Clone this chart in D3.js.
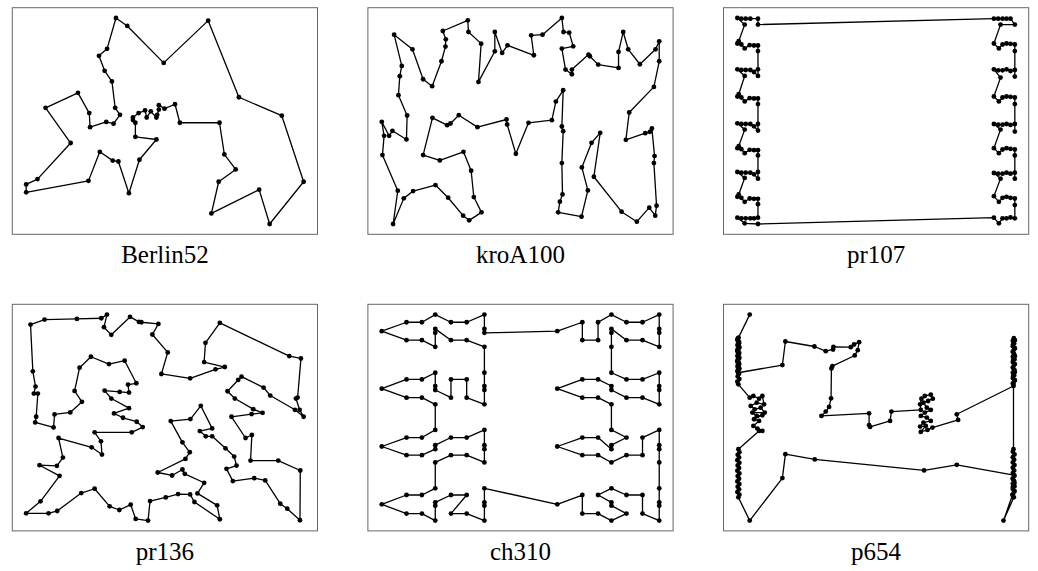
<!DOCTYPE html>
<html>
<head>
<meta charset="utf-8">
<script src="https://cdn.jsdelivr.net/npm/d3@7"></script>
<style>
  body { margin: 0; background: #fff; }
  text { font-family: "Liberation Serif", "Times New Roman", serif; }
</style>
</head>
<body>
<svg id="chart" width="1038" height="571"></svg>
<script>
// instance names, in panel order
const names = ['Berlin52', 'kroA100', 'pr107', 'pr136', 'ch310', 'p654'];

// berlin52 cities, in tour order (TSPLIB coordinates, y up)
const berlin52 = [
  [565,575],[605,625],[575,665],[555,815],[510,875],[475,960],[525,1000],[580,1175],[650,1130],
  [875,920],[1150,1160],[1340,725],[1605,620],[1740,245],[1530,5],[1465,200],[1170,65],[1215,245],
  [1320,315],[1250,400],[1220,580],[975,580],[945,685],[880,660],[845,680],[845,655],[835,625],
  [830,610],[795,645],[770,610],[760,650],[720,635],[685,610],[685,595],[700,580],[700,500],
  [830,485],[725,370],[660,180],[595,360],[560,365],[480,415],[410,250],[25,185],[25,230],
  [95,260],[300,465],[145,665],[345,750],[415,635],[420,555],[520,585]
];

// the rest (x right, y down)
const kroA100 = [
  [95,88],[150,132],[182,222],[209,243],[237,168],[249,124],[250,102],[241,77],[316,45],[318,80],
  [356,115],[348,230],[397,138],[397,80],[419,143],[435,120],[514,150],[506,90],[540,88],[598,38],
  [603,80],[620,82],[632,123],[598,130],[609,193],[628,207],[628,193],[678,148],[682,153],[707,178],
  [768,188],[768,140],[782,80],[797,132],[832,177],[879,132],[890,108],[890,168],[874,245],[800,322],
  [790,404],[848,384],[862,380],[868,370],[876,453],[874,474],[882,602],[878,632],[860,608],[823,650],
  [777,620],[694,515],[713,383],[687,413],[658,487],[676,556],[657,635],[587,622],[592,590],[600,568],
  [598,474],[602,378],[598,364],[602,255],[580,289],[568,345],[498,353],[460,446],[434,358],[432,343],
  [345,366],[289,330],[264,355],[254,360],[210,338],[182,450],[232,466],[303,440],[326,497],[334,576],
  [357,622],[320,646],[302,632],[257,578],[219,540],[152,558],[124,580],[92,657],[106,557],[60,450],
  [65,392],[58,350],[80,392],[90,377],[132,403],[134,331],[108,270],[112,213],[118,182]
];

const pr107 = [
  [120,55],[120,37],[97,37],[83,37],[70,37],[58,35],[80,55],
  [62,105],[58,112],[70,115],[80,127],[95,117],[108,118],[120,118],[120,135],
  [120,190],[120,210],[108,198],[97,192],[83,192],[70,192],[58,190],[80,210],
  [62,265],[58,272],[70,275],[80,287],[95,277],[108,278],[120,278],[120,295],
  [120,355],[120,375],[108,362],[97,355],[83,355],[70,355],[58,353],[80,372],
  [62,422],[58,428],[70,431],[80,443],[95,433],[108,434],[120,434],[120,450],
  [120,500],[120,520],[108,507],[97,502],[83,502],[70,502],[58,500],[80,518],
  [62,568],[58,575],[70,578],[80,590],[95,580],[108,581],[120,581],[120,597],
  [120,638],[108,640],[97,640],[83,640],[70,640],[58,638],[80,655],[120,657],
  [830,638],[845,655],[856,640],[868,640],[880,637],[893,640],[893,600],
  [893,580],[880,578],[868,575],[856,578],[845,590],[830,573],[850,520],
  [830,503],[843,505],[856,505],[868,502],[880,505],[893,502],[893,520],
  [893,450],[893,432],[880,430],[868,428],[856,432],[845,443],[830,428],[850,372],
  [830,355],[843,357],[856,357],[868,355],[880,358],[893,355],[893,378],
  [893,295],[893,275],[880,273],[868,272],[856,275],[845,287],[830,272],[850,215],
  [830,190],[843,193],[856,193],[868,190],[880,195],[893,192],[893,212],
  [893,135],[893,115],[880,113],[868,112],[856,115],[845,127],[830,112],[850,55],
  [893,55],[880,37],[868,37],[856,37],[843,37],[830,37]
];

const pr136 = [
  [78,35],[120,20],[217,18],[290,16],[307,5],[298,43],[320,66],[376,12],[403,27],[410,28],
  [461,33],[443,65],[489,119],[470,184],[556,197],[632,170],[660,163],[598,148],[602,90],[645,30],
  [853,130],[888,137],[878,255],[873,258],[884,292],[896,313],[870,292],[796,249],[776,225],[710,192],
  [700,202],[668,236],[690,258],[745,290],[773,301],[740,305],[680,313],[722,377],[741,368],[737,445],
  [820,445],[886,475],[885,625],[847,590],[826,575],[781,505],[748,498],[684,507],[665,470],[695,460],
  [688,433],[662,408],[622,372],[603,372],[585,356],[622,348],[588,280],[557,320],[498,326],[533,390],
  [555,420],[542,440],[459,481],[502,490],[533,472],[540,485],[598,512],[578,544],[637,580],[645,622],
  [569,570],[556,547],[520,546],[483,556],[436,567],[430,626],[393,621],[378,578],[344,594],[315,583],
  [270,530],[230,543],[158,597],[132,604],[65,604],[108,568],[165,491],[105,459],[157,461],[175,436],
  [162,377],[261,405],[292,427],[289,387],[270,360],[381,360],[414,344],[396,328],[355,316],[328,303],
  [373,287],[320,258],[300,234],[345,238],[373,240],[370,216],[395,212],[360,144],[313,154],[259,132],
  [225,165],[210,235],[232,268],[197,300],[150,306],[147,345],[92,330],[95,313],[100,243],[88,243],
  [93,222],[85,176]
];

const ch310 = [
  [58,55],[132,28],[178,28],[218,5],[265,28],[312,28],[365,5],[365,48],[365,60],
  [583,55],[658,28],[658,82],[705,82],[705,28],[745,5],[790,28],[838,28],[888,5],[888,48],[888,60],
  [888,102],[838,82],[790,82],[745,48],[745,60],[745,102],[745,180],[790,200],[838,200],[888,180],
  [888,220],[888,232],[888,275],[838,255],[790,255],[745,232],[745,220],[705,200],[658,200],[583,228],
  [658,255],[705,255],[745,275],[745,352],[790,375],[745,398],[745,410],[705,375],[658,375],[583,402],
  [658,428],[705,428],[745,450],[790,428],[838,428],[838,375],[888,352],[888,398],[888,410],[888,450],
  [888,528],[888,570],[888,580],[888,625],[838,604],[838,548],[790,548],[745,528],[705,548],[745,570],
  [745,580],[790,604],[745,625],[705,604],[658,604],[658,548],[583,576],[365,528],[365,570],[365,580],
  [365,625],[312,604],[265,604],[312,548],[265,548],[218,570],[218,580],[218,625],[178,604],[132,604],
  [58,576],[132,548],[178,548],[218,528],[218,450],[265,428],[312,428],[365,450],[365,410],[365,398],
  [365,352],[312,375],[265,375],[218,398],[218,410],[178,428],[132,428],[58,402],[132,375],[178,375],
  [218,352],[218,275],[178,255],[132,255],[58,228],[132,200],[178,200],[218,180],[218,220],[218,232],
  [265,255],[265,200],[312,200],[312,255],[365,275],[365,232],[365,220],[365,180],[365,102],[312,82],
  [265,82],[218,48],[218,60],[218,102],[178,82],[132,82]
];

const p654 = [
  [97,5],[63,75],[61,83],[65,91],[61,99],[64,107],[60,115],[65,123],[61,131],[64,139],[60,147],
  [65,155],[61,163],[64,171],[62,180],
  [195,157],[204,86],[291,101],[325,115],[347,110],[348,102],[400,103],[410,95],[425,88],[421,112],
  [412,128],[345,160],[342,167],[341,257],[335,283],[325,297],[312,310],[455,302],[455,338],[458,343],
  [518,325],[522,297],[610,292],[608,275],[612,258],[622,250],[640,246],[646,258],[632,265],[618,270],
  [628,285],[640,292],[622,300],[610,310],[628,315],[640,325],[618,330],[608,342],[625,340],[610,358],
  [630,352],[645,345],[722,322],[718,305],[888,220],
  [886,212],[891,204],[886,196],[890,188],[886,180],[891,172],[886,164],[890,156],[886,148],[891,140],
  [886,132],[890,124],[886,116],[891,108],[886,100],[890,92],[886,84],[889,76],
  [892,82],[887,94],[892,106],[887,118],[892,130],[887,142],[892,154],[887,166],[892,178],[887,190],
  [892,202],[888,214],
  [888,410],[886,418],[891,426],[886,434],[890,442],[886,450],[891,458],[886,466],[890,474],[886,482],
  [891,490],[886,498],[890,506],[886,514],[891,522],[886,530],[890,538],[886,546],[889,555],
  [858,625],[885,548],[891,536],[886,524],[891,512],[886,500],[889,488],
  [718,457],[620,474],[292,441],[204,425],[195,497],[97,625],
  [63,555],[66,547],[60,539],[65,531],[61,523],[66,515],[60,507],[65,499],[61,491],[66,483],
  [60,475],[65,467],[61,459],[66,451],[60,443],[65,435],[61,427],[66,419],[63,410],
  [125,355],[135,355],[120,348],[108,340],[125,325],[110,320],[135,308],[118,310],[105,300],
  [142,300],[130,285],[112,290],[100,280],[118,270],[140,275],[135,250],[125,258],[108,250],[97,255],
  [63,215],[60,207],[66,199],[61,191],[65,183],[60,175],[66,167],[61,159],[65,151],[60,143],
  [66,135],[61,127],[65,119],[60,111],[66,103],[61,95],[65,87],[60,79],[63,75]
];

const tours = [berlin52, kroA100, pr107, pr136, ch310, p654];
const yDown = [false, true, true, true, true, true];

const layout = {
  left: 12.3, top: 7.7,
  colStep: 355.6, rowStep: 296.6,
  width: 305.2, height: 226.6,
  margin: 0.05,
  labelGap: 29
};

const svg = d3.select('#chart');

function paddedDomain(values) {
  const [lo, hi] = d3.extent(values);
  const pad = (hi - lo) * layout.margin;
  return [lo - pad, hi + pad];
}

tours.forEach((pts, i) => {
  const col = i % 3, row = Math.floor(i / 3);
  const g = svg.append('g')
    .attr('transform', `translate(${layout.left + col * layout.colStep},${layout.top + row * layout.rowStep})`);

  const x = d3.scaleLinear()
    .domain(paddedDomain(pts.map(d => d[0])))
    .range([0, layout.width]);
  const y = d3.scaleLinear()
    .domain(paddedDomain(pts.map(d => d[1])))
    .range(yDown[i] ? [0, layout.height] : [layout.height, 0]);

  const line = d3.line().x(d => x(d[0])).y(d => y(d[1]));

  g.append('path')
    .datum(pts.concat([pts[0]]))
    .attr('d', line)
    .attr('fill', 'none')
    .attr('stroke', '#000')
    .attr('stroke-width', 1.3)
    .attr('stroke-linejoin', 'round');

  g.selectAll('circle')
    .data(pts)
    .enter()
    .append('circle')
    .attr('cx', d => x(d[0]))
    .attr('cy', d => y(d[1]))
    .attr('r', 2.4)
    .attr('fill', '#000');

  g.append('rect')
    .attr('x', 0).attr('y', 0)
    .attr('width', layout.width).attr('height', layout.height)
    .attr('fill', 'none')
    .attr('stroke', '#666')
    .attr('stroke-width', 1);

  g.append('text')
    .attr('x', layout.width / 2)
    .attr('y', layout.height + layout.labelGap)
    .attr('text-anchor', 'middle')
    .attr('font-size', 25)
    .attr('fill', '#000')
    .text(names[i]);
});
</script>
</body>
</html>
